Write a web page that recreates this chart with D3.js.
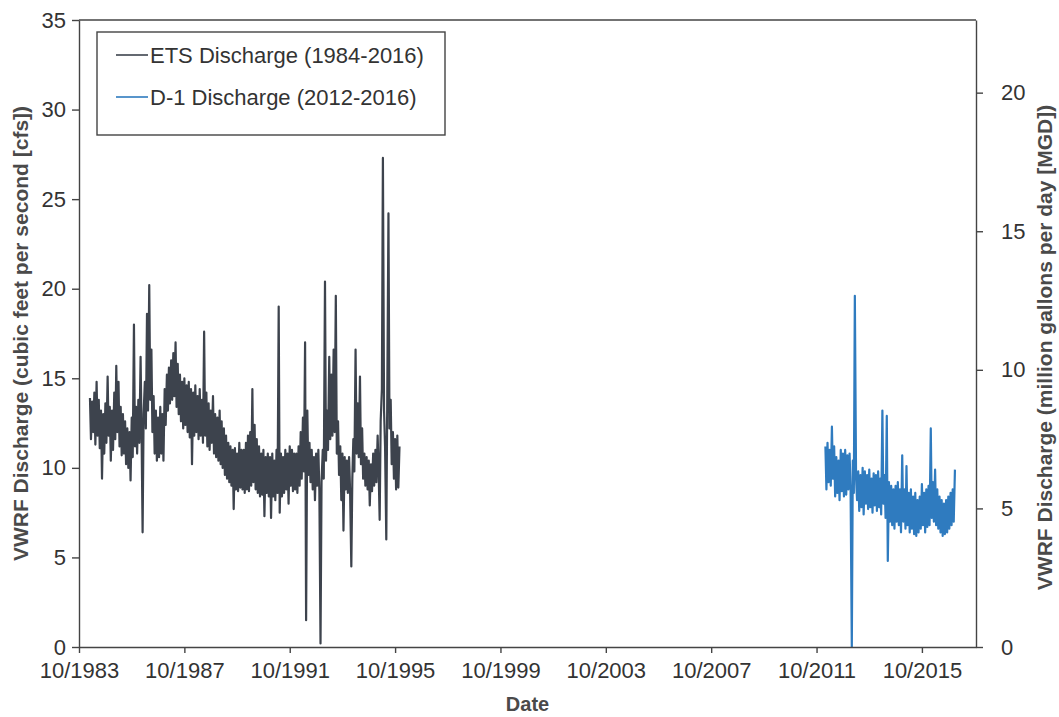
<!DOCTYPE html>
<html>
<head>
<meta charset="utf-8">
<script src="https://cdn.jsdelivr.net/npm/d3@7"></script>
<style>
  body { margin: 0; background: #ffffff; }
  text { font-family: 'Liberation Sans', Arial, sans-serif; }
</style>
</head>
<body>
<div id="graph"></div>
<script>
// ETS discharge, cfs, sampled on the 1st and 15th of each month from 1984-03-01
const etsStart = '1984-03-01';
const etsValues = [
  // 1984 (Mar-Dec)
  13.9, 11.6, 13.7, 12.0, 14.2, 11.3, 14.8, 11.8, 13.8, 11.1, 13.2, 9.4, 13.0, 10.8, 13.6, 11.4, 15.1, 11.8, 13.4, 10.4,
  // 1985
  13.2, 11.0, 14.2, 11.6, 15.7, 12.0, 14.8, 11.2, 13.4, 10.7, 13.0, 10.8, 12.6, 10.2, 12.2, 10.0, 12.0, 9.3, 12.8, 10.6, 18.0, 11.2, 13.4, 10.8,
  // 1986
  13.8, 11.4, 16.2, 11.8, 6.4, 13.0, 14.8, 12.2, 18.6, 13.2, 20.2, 13.8, 16.6, 12.0, 14.0, 10.8, 13.2, 10.4, 12.8, 10.6, 13.4, 10.8, 13.0, 10.4,
  // 1987
  14.4, 12.4, 15.2, 13.2, 15.6, 13.6, 16.0, 13.8, 16.4, 14.0, 17.0, 13.4, 15.8, 13.0, 15.2, 12.6, 14.8, 12.2, 15.0, 12.4, 14.6, 12.0, 14.8, 11.7,
  // 1988
  14.4, 10.2, 14.2, 11.8, 14.6, 12.0, 14.0, 11.6, 14.4, 11.8, 13.8, 11.4, 17.6, 11.8, 14.2, 11.2, 13.6, 11.0, 13.2, 11.4, 14.0, 10.8, 13.0, 10.6,
  // 1989
  12.8, 10.4, 13.2, 10.2, 12.6, 10.0, 12.2, 9.6, 11.8, 9.4, 11.4, 9.2, 11.2, 9.0, 11.0, 7.7, 11.1, 8.8, 10.8, 8.7, 11.4, 8.9, 11.0, 8.8,
  // 1990
  11.0, 8.6, 11.4, 8.8, 11.8, 8.7, 12.0, 9.0, 14.4, 9.2, 12.4, 8.8, 11.6, 8.6, 11.2, 8.4, 10.8, 8.5, 11.0, 7.3, 10.6, 8.6, 10.8, 8.4,
  // 1991
  10.6, 7.2, 10.8, 8.4, 10.4, 8.2, 11.0, 8.6, 19.0, 7.5, 10.8, 8.4, 10.6, 8.6, 11.0, 8.8, 10.8, 8.0, 11.2, 9.0, 11.0, 8.7, 10.8, 8.8,
  // 1992
  10.8, 8.6, 11.2, 9.0, 12.0, 9.4, 12.8, 9.8, 17.0, 1.5, 13.2, 9.6, 11.4, 9.2, 11.0, 8.8, 10.6, 8.2, 10.8, 9.0, 11.0, 8.7, 0.2, 9.2,
  // 1993
  11.0, 9.4, 20.4, 10.4, 13.2, 11.0, 16.2, 11.6, 15.2, 11.8, 16.6, 12.0, 19.6, 10.8, 12.6, 9.6, 11.2, 8.2, 10.8, 6.5, 10.6, 8.8, 10.4, 8.6,
  // 1994
  10.6, 8.7, 4.5, 9.4, 11.6, 9.8, 16.6, 10.8, 13.6, 10.6, 15.1, 10.2, 12.2, 9.4, 10.8, 9.0, 10.6, 8.8, 10.4, 7.9, 10.2, 8.7, 10.8, 9.0,
  // 1995 (Jan-Dec 1)
  11.0, 9.2, 11.8, 9.8, 7.1, 12.6, 14.4, 27.3, 13.2, 11.2, 6.0, 14.2, 24.2, 12.2, 13.8, 10.2, 12.0, 9.4, 11.6, 8.8, 11.8, 8.9, 11.2
];

// D-1 discharge, cfs, sampled on the 1st and 15th of each month from 2012-02-01
const d1Start = '2012-02-01';
const d1Values = [
  // 2012 (Feb-Dec)
  11.2, 8.8, 11.4, 9.2, 11.0, 9.0, 12.3, 9.4, 11.2, 8.4, 10.6, 8.6, 10.4, 8.2, 11.0, 8.7, 10.8, 8.4, 11.0, 8.5, 10.7, 8.8,
  // 2013
  10.8, 8.8, 0.0, 10.4, 8.6, 19.6, 9.4, 8.2, 9.8, 7.6, 9.6, 7.8, 10.0, 7.4, 9.8, 8.0, 9.6, 7.7, 9.9, 7.8, 9.4, 7.5, 9.7, 7.9,
  // 2014
  9.6, 7.6, 9.8, 7.8, 9.4, 7.4, 13.2, 8.0, 9.6, 7.2, 12.9, 4.8, 9.2, 7.0, 9.0, 6.8, 8.8, 6.6, 9.0, 7.0, 9.2, 6.8, 8.8, 6.4,
  // 2015
  10.7, 7.0, 8.8, 6.6, 10.1, 6.8, 8.6, 6.4, 8.8, 6.6, 8.4, 6.3, 8.6, 6.2, 8.2, 6.4, 8.4, 6.6, 9.1, 6.8, 8.6, 6.4, 8.8, 6.7,
  // 2016
  9.0, 6.8, 12.2, 7.2, 9.2, 7.0, 9.9, 6.8, 8.8, 6.6, 8.4, 6.4, 8.2, 6.2, 8.0, 6.3, 8.2, 6.4, 8.4, 6.6, 8.6, 6.8, 8.8, 7.0,
  // 2017
  9.9
];

const xDomain = ['1983-10-01', '2017-10-20'];
const xTicks = ['1983-10-01', '1987-10-01', '1991-10-01', '1995-10-01', '1999-10-01',
  '2003-10-01', '2007-10-01', '2011-10-01', '2015-10-01'];
const cfsMax = 35;
const cfsTicks = [0, 5, 10, 15, 20, 25, 30, 35];
const mgdPerCfs = 0.646317;
const mgdTicks = [0, 5, 10, 15, 20];

const legendLabels = ['ETS Discharge (1984-2016)', 'D-1 Discharge (2012-2016)'];
const colors = ['#3d434d', '#2f7bbf'];

let margin = { top: 20, right: 83, bottom: 70, left: 79 },
  width = 1059 - margin.left - margin.right,
  height = 717 - margin.top - margin.bottom;

const parseDate = d3.timeParse('%Y-%m-%d');

// two samples per month: the 1st and the 15th
function semiMonthly(start, values) {
  let d0 = parseDate(start);
  return values.map((v, i) => {
    let m = d3.timeMonth.offset(d0, Math.floor(i / 2));
    let date = i % 2 === 0 ? m : d3.timeDay.offset(m, 14);
    return { date: date, value: v };
  });
}

let ets = semiMonthly(etsStart, etsValues);
let d1 = semiMonthly(d1Start, d1Values);

let svg = d3.select('#graph').append('svg')
  .attr('width', 1059)
  .attr('height', 717);

let xScale = d3.scaleTime()
  .domain(xDomain.map(parseDate))
  .range([0, width]);
let yScale = d3.scaleLinear().domain([0, cfsMax]).range([height, 0]);
let yRight = d3.scaleLinear().domain([0, cfsMax * mgdPerCfs]).range([height, 0]);

let vis = svg.append('g')
  .attr('transform', 'translate(' + margin.left + ',' + margin.top + ')');

let line = d3.line()
  .x((d) => xScale(d.date))
  .y((d) => yScale(d.value));

// ETS
vis.append('path')
  .datum(ets)
  .attr('fill', 'none')
  .attr('stroke', colors[0])
  .attr('stroke-width', 2.2)
  .attr('stroke-linejoin', 'round')
  .attr('d', line);

// D-1
vis.append('path')
  .datum(d1)
  .attr('fill', 'none')
  .attr('stroke', colors[1])
  .attr('stroke-width', 2.2)
  .attr('stroke-linejoin', 'round')
  .attr('d', line);

// frame top
vis.append('line')
  .attr('x1', 0).attr('x2', width)
  .attr('y1', 0).attr('y2', 0)
  .attr('stroke', '#444').attr('stroke-width', 1.4);

let xAxis = d3.axisBottom(xScale)
  .tickValues(xTicks.map(parseDate))
  .tickFormat(d3.timeFormat('%m/%Y'))
  .tickSizeInner(6).tickSizeOuter(0).tickPadding(9);

let yAxis = d3.axisLeft(yScale).tickValues(cfsTicks).tickSizeInner(7).tickSizeOuter(0).tickPadding(6);
let yAxisR = d3.axisRight(yRight).tickValues(mgdTicks).tickSizeInner(7).tickSizeOuter(0).tickPadding(18);

function styleAxis(g) {
  g.selectAll('path, line').attr('stroke', '#444').attr('stroke-width', 1.4);
  g.selectAll('text').attr('fill', '#333').attr('font-size', 22);
}

vis.append('g')
  .attr('transform', 'translate(0,' + height + ')')
  .call(xAxis)
  .call(styleAxis);

vis.append('g').call(yAxis).call(styleAxis);

vis.append('g')
  .attr('transform', 'translate(' + width + ',0)')
  .call(yAxisR)
  .call(styleAxis);

// axis titles
svg.append('text')
  .attr('transform', 'translate(28,' + (margin.top + height / 2) + ') rotate(-90)')
  .attr('text-anchor', 'middle')
  .attr('font-size', 21)
  .attr('font-weight', 'bold')
  .attr('fill', '#4a4a4a')
  .text('VWRF Discharge (cubic feet per second [cfs])');

svg.append('text')
  .attr('transform', 'translate(1052,' + (margin.top + height / 2 + 14) + ') rotate(-90)')
  .attr('text-anchor', 'middle')
  .attr('font-size', 21)
  .attr('font-weight', 'bold')
  .attr('fill', '#4a4a4a')
  .text('VWRF Discharge (million gallons per day [MGD])');

svg.append('text')
  .attr('x', margin.left + width / 2)
  .attr('y', 711)
  .attr('text-anchor', 'middle')
  .attr('font-size', 20)
  .attr('font-weight', 'bold')
  .attr('fill', '#4a4a4a')
  .text('Date');

// legend
let legend = svg.append('g').attr('transform', 'translate(97,32)');
legend.append('rect')
  .attr('width', 348).attr('height', 103)
  .attr('fill', '#fff').attr('stroke', '#444').attr('stroke-width', 1.4);

legendLabels.forEach((label, i) => {
  let row = legend.append('g').attr('transform', 'translate(0,' + (23 + i * 42) + ')');
  row.append('line')
    .attr('x1', 19).attr('x2', 51)
    .attr('stroke', colors[i]).attr('stroke-width', 1.6);
  row.append('text')
    .attr('x', 53).attr('y', 8)
    .attr('font-size', 22)
    .attr('fill', '#333')
    .text(label);
});
</script>
</body>
</html>
